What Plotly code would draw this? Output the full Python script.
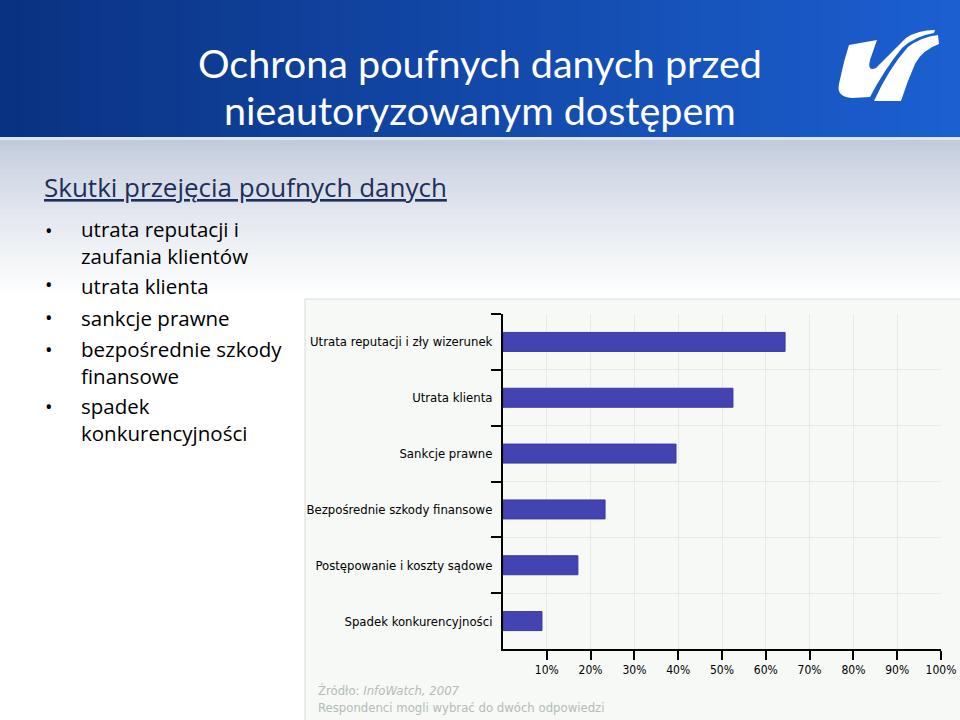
import plotly.graph_objects as go

# ---------------- data ----------------
categories = [
    "Utrata reputacji i zły wizerunek",
    "Utrata klienta",
    "Sankcje prawne",
    "Bezpośrednie szkody finansowe",
    "Postępowanie i koszty sądowe",
    "Spadek konkurencyjności",
]
values = [64.4, 52.5, 39.5, 23.3, 17.1, 8.9]
tick_vals = [10, 20, 30, 40, 50, 60, 70, 80, 90, 100]
tick_text = ["10%", "20%", "30%", "40%", "50%", "60%", "70%", "80%", "90%", "100%"]

title_lines = ["Ochrona poufnych danych przed", "nieautoryzowanym dostępem"]
subtitle = "Skutki przejęcia poufnych danych"
bullets = [
    ["utrata reputacji i", "zaufania klientów"],
    ["utrata klienta"],
    ["sankcje prawne"],
    ["bezpośrednie szkody", "finansowe"],
    ["spadek", "konkurencyjności"],
]
source_line1 = "Źródło: <i>InfoWatch, 2007</i>"
source_line2 = "Respondenci mogli wybrać do dwóch odpowiedzi"

W, H = 960, 720
ML, MR, MT, MB = 503, 19, 314, 71
PW, PH = W - ML - MR, H - MT - MB

BAR_COLOR = "#4343b2"
NARROW = "DejaVu Sans Condensed, Liberation Sans Narrow, sans-serif"
BODY = "Open Sans, Noto Sans, sans-serif"
TITLE_FONT = "Lato, Open Sans, sans-serif"


def fx(px):
    return (px - ML) / PW


def fy(py):
    return 1 - (py - MT) / PH


fig = go.Figure()
fig.add_trace(go.Bar(
    y=categories, x=values, orientation="h",
    marker=dict(color=BAR_COLOR, line=dict(color="#3a3a9e", width=1)),
    width=0.34, hoverinfo="skip",
))

shapes = []


def hexblend(c1, c2, t):
    a = [int(c1[i:i + 2], 16) for i in (1, 3, 5)]
    b = [int(c2[i:i + 2], 16) for i in (1, 3, 5)]
    return "#" + "".join(f"{round(a[k] + (b[k] - a[k]) * t):02x}" for k in range(3))


def px_rect(x0, y0, x1, y1, color, layer="below", line=None):
    d = dict(type="rect", xref="paper", yref="paper",
             x0=fx(x0), x1=fx(x1), y0=fy(y1), y1=fy(y0),
             fillcolor=color, layer=layer, line=dict(width=0))
    if line:
        d["line"] = line
    return d


# banner gradient (left dark navy -> right brighter blue)
N = 48
for i in range(N):
    x0 = W * i / N
    x1 = W * (i + 1) / N + 1
    shapes.append(px_rect(x0, 0, x1, 137, hexblend("#0a3282", "#1b5fd0", i / (N - 1))))
shapes.append(px_rect(0, 137, W, 140, "#dfe5ee"))
M = 32
for i in range(M):
    y0 = 140 + i * 160 / M
    y1 = 140 + (i + 1) * 160 / M + 1
    shapes.append(px_rect(0, y0, W, y1, hexblend("#c1cbdb", "#ffffff", (i / (M - 1)) ** 0.8)))
shapes.append(px_rect(305, 299, W + 2, H + 2, "#f6f9f6",
                      line=dict(color="#d8dcd8", width=1)))


def P(pts):
    s = ""
    for cmd, *xy in pts:
        s += cmd
        coords = []
        for j in range(0, len(xy), 2):
            coords.append(f"{fx(xy[j]):.5f},{fy(xy[j + 1]):.5f}")
        s += " ".join(coords) + " "
    return s.strip() + " Z"


logo_u = P([("M", 849, 45), ("L", 877, 40), ("L", 870, 60), ("Q", 867, 72, 876, 68),
            ("Q", 892, 52, 906, 38), ("Q", 918, 30, 935, 30), ("L", 934, 33),
            ("Q", 915, 36, 902, 48), ("Q", 884, 70, 870, 97), ("L", 852, 98),
            ("Q", 836, 97, 839, 84), ("L", 844, 62)])
logo_r = P([("M", 874, 101), ("L", 901, 101), ("Q", 907, 82, 915, 64),
            ("Q", 922, 50, 939, 44), ("L", 938, 35), ("Q", 921, 37, 908, 47),
            ("Q", 889, 68, 874, 101)])
for pth in (logo_u, logo_r):
    shapes.append(dict(type="path", xref="paper", yref="paper", path=pth,
                       fillcolor="white", line=dict(width=0), layer="above"))

annotations = []


def text_at(x, y, txt, size, color, family, xanchor="left", yanchor="middle"):
    annotations.append(dict(xref="paper", yref="paper", x=fx(x), y=fy(y),
                            text=txt, showarrow=False, xanchor=xanchor, yanchor=yanchor,
                            align="left", font=dict(size=size, color=color, family=family)))


text_at(480, 62, title_lines[0], 39.5, "white", TITLE_FONT, xanchor="center")
text_at(480, 110, title_lines[1], 39.5, "white", TITLE_FONT, xanchor="center")
text_at(42, 187, "<u>" + subtitle + "</u>", 26, "#1d2f5c", BODY)

line_y = [[231, 255], [286], [318], [350, 375], [407, 432]]
for lines, ys in zip(bullets, line_y):
    text_at(49, ys[0] - 1, "•", 20, "black", BODY, xanchor="center")
    y_mid = (ys[0] + ys[-1]) / 2
    text_at(79, y_mid, "<br>".join(lines), 20.5, "black", BODY)

text_at(316, 690, source_line1, 13, "#b4bcb4", NARROW)
text_at(316, 707, source_line2, 13, "#b4bcb4", NARROW)

fig.update_layout(
    width=W, height=H, autosize=False,
    margin=dict(l=ML, r=MR, t=MT, b=MB, pad=0),
    paper_bgcolor="white", plot_bgcolor="rgba(0,0,0,0)",
    showlegend=False, bargap=0.66,
    shapes=shapes, annotations=annotations,
    xaxis=dict(range=[0, 100], tickvals=tick_vals, ticktext=tick_text,
               showline=True, linecolor="black", linewidth=2, automargin=False,
               ticks="outside", ticklen=9, tickwidth=2, tickcolor="black",
               showgrid=True, gridcolor="#e6ebe6", gridwidth=1, zeroline=False,
               tickfont=dict(family=NARROW, size=12, color="black"), fixedrange=True),
    yaxis=dict(categoryorder="array", categoryarray=categories, autorange="reversed",
               showline=True, linecolor="black", linewidth=2, automargin=False,
               ticks="outside", ticklen=10, tickwidth=2, tickcolor="black",
               tickson="boundaries", showgrid=True, gridcolor="#e6ebe6",
               ticklabelstandoff=6,
               tickfont=dict(family=NARROW, size=13, color="black"), fixedrange=True),
)

fig.write_html("out.html", config={"displayModeBar": False},
               post_script="document.body.style.margin='0';")
